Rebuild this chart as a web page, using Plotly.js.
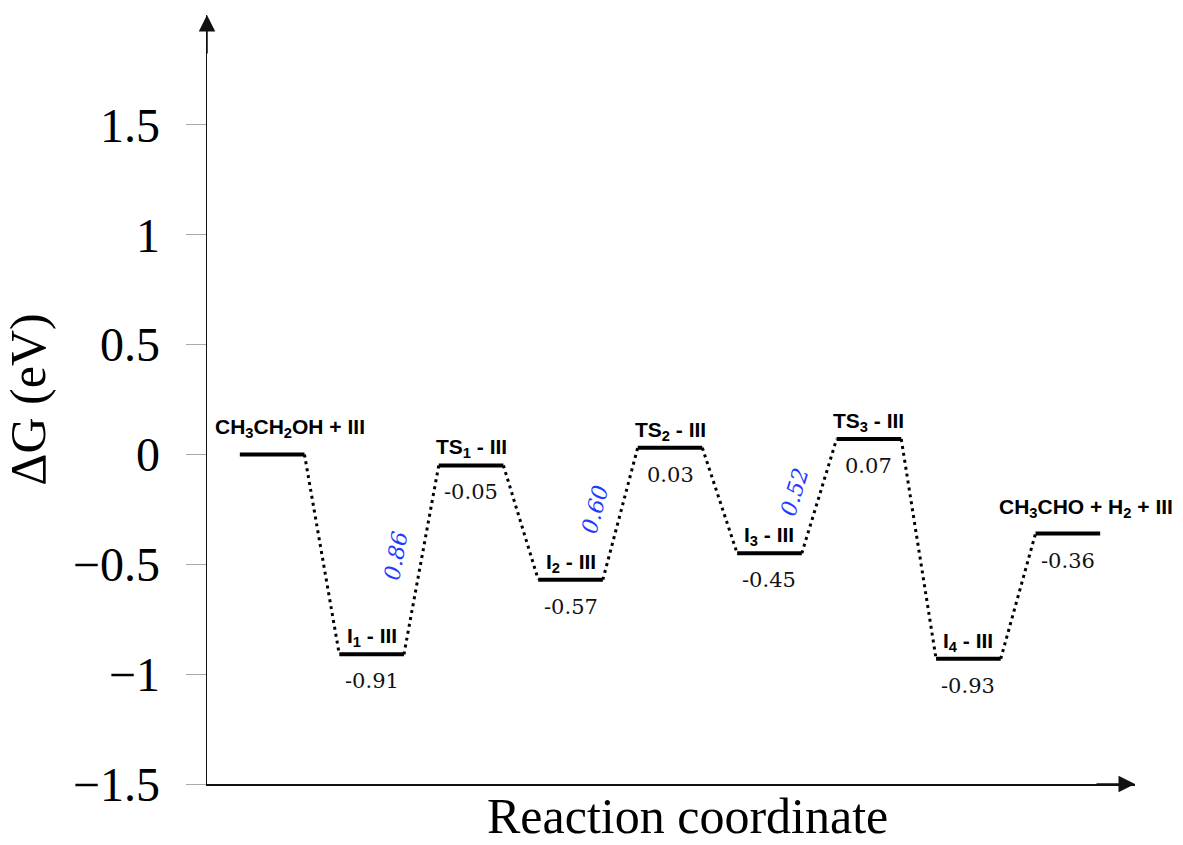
<!DOCTYPE html>
<html>
<head>
<meta charset="utf-8">
<script src="https://cdn.plot.ly/plotly-3.0.1.min.js"></script>
<style>html,body{margin:0;padding:0;background:#fff;}</style>
</head>
<body>
<div id="chart" style="width:1183px;height:845px;"></div>
<script>
// ---- data ----
const states = [
  'CH<sub>3</sub>CH<sub>2</sub>OH + III',
  'I<sub>1</sub> - III',
  'TS<sub>1</sub> - III',
  'I<sub>2</sub> - III',
  'TS<sub>2</sub> - III',
  'I<sub>3</sub> - III',
  'TS<sub>3</sub> - III',
  'I<sub>4</sub> - III',
  'CH<sub>3</sub>CHO + H<sub>2</sub> + III'
];
const energies = [0, -0.91, -0.05, -0.57, 0.03, -0.45, 0.07, -0.93, -0.36];
const energyLabels = [null, '-0.91', '-0.05', '-0.57', '0.03', '-0.45', '0.07', '-0.93', '-0.36'];
const barriers = ['0.86', '0.60', '0.52'];
const barrierFrom = [1, 3, 5];
const yTicks = [-1.5, -1, -0.5, 0, 0.5, 1, 1.5];
const xTitle = 'Reaction coordinate';
const yTitle = 'ΔG (eV)';

// ---- geometry (styling) ----
const LW = 0.65;             // level width in x units
const XR = [-0.33, 9.0];
const YR = [-1.5, 2.0];
const M = {l: 207, r: 48, t: 15, b: 61};
const W = 1183, H = 845;
const pxX = (W - M.l - M.r) / (XR[1] - XR[0]);
const pxY = (H - M.t - M.b) / (YR[1] - YR[0]);

// level segments
const lx = [], ly = [];
energies.forEach((e, i) => { lx.push(i, i + LW, null); ly.push(e, e, null); });
// dotted connectors
const cx = [], cy = [];
for (let i = 0; i < energies.length - 1; i++) {
  cx.push(i + LW, i + 1, null); cy.push(energies[i], energies[i + 1], null);
}

const traces = [
  {x: cx, y: cy, mode: 'lines', line: {color: '#000', width: 3, dash: '3px,4px'}, hoverinfo: 'skip', showlegend: false},
  {x: lx, y: ly, mode: 'lines', line: {color: '#000', width: 4}, hoverinfo: 'skip', showlegend: false}
];

const ann = [];
const last = energies.length - 1;
energies.forEach((e, i) => {
  const edge = (i === 0 || i === last);
  ann.push({
    x: i + LW / 2, y: e, xref: 'x', yref: 'y', text: states[i], showarrow: false,
    xanchor: 'center', yanchor: 'bottom', yshift: edge ? 11 : 2, xshift: edge ? 18 : 0,
    font: {family: 'Liberation Sans, Arial, sans-serif', size: 21, color: '#000', weight: 'bold'}
  });
  if (energyLabels[i] !== null) {
    ann.push({
      x: i + LW / 2, y: e, xref: 'x', yref: 'y', text: energyLabels[i], showarrow: false,
      xanchor: 'center', yanchor: 'top', yshift: -13,
      font: {family: 'DejaVu Serif, serif', size: 21, color: '#111'}
    });
  }
});
barriers.forEach((b, k) => {
  const i = barrierFrom[k];
  const x0 = i + LW, x1 = i + 1;
  const y0 = energies[i], y1 = energies[i + 1];
  const ang = Math.atan2((y1 - y0) * pxY, (x1 - x0) * pxX) * 180 / Math.PI;
  ann.push({
    x: (x0 + x1) / 2, y: (y0 + y1) / 2, xref: 'x', yref: 'y', text: '<i>' + b + '</i>',
    showarrow: false, textangle: -ang, xshift: -25, yshift: 4,
    font: {family: 'DejaVu Serif, serif', size: 22, color: '#1e3cff'}
  });
});
// axis arrows
ann.push({x: XR[1], y: YR[0], xref: 'x', yref: 'y', ax: -40, ay: 0, text: '', showarrow: true,
  arrowhead: 2, arrowsize: 2.2, arrowwidth: 1.5, arrowcolor: '#111'});
ann.push({x: XR[0], y: YR[1], xref: 'x', yref: 'y', ax: 0, ay: 40, text: '', showarrow: true,
  arrowhead: 2, arrowsize: 2.2, arrowwidth: 1.5, arrowcolor: '#111'});
// x axis title
ann.push({x: 0.518, y: 0, xref: 'paper', yref: 'paper', yanchor: 'top', xanchor: 'center', yshift: -2,
  text: xTitle, showarrow: false, font: {family: 'Liberation Serif, serif', size: 50, color: '#000'}});

const layout = {
  width: W, height: H, margin: M,
  paper_bgcolor: '#fff', plot_bgcolor: '#fff',
  showlegend: false,
  xaxis: {
    range: XR, showgrid: false, zeroline: false, showticklabels: false, ticks: '',
    showline: true, linecolor: '#111', linewidth: 1.5
  },
  yaxis: {
    range: YR, showgrid: false, zeroline: false,
    tickvals: yTicks, ticks: 'outside', ticklen: 20, tickcolor: '#aaa', tickwidth: 1,
    ticklabelstandoff: 16,
    tickfont: {family: 'Liberation Serif, serif', size: 48, color: '#000'},
    showline: true, linecolor: '#111', linewidth: 1.5,
    title: {text: yTitle, font: {family: 'Liberation Serif, serif', size: 50, color: '#000'}, standoff: 14}
  },
  annotations: ann
};

Plotly.newPlot('chart', traces, layout, {staticPlot: true});
</script>
</body>
</html>
